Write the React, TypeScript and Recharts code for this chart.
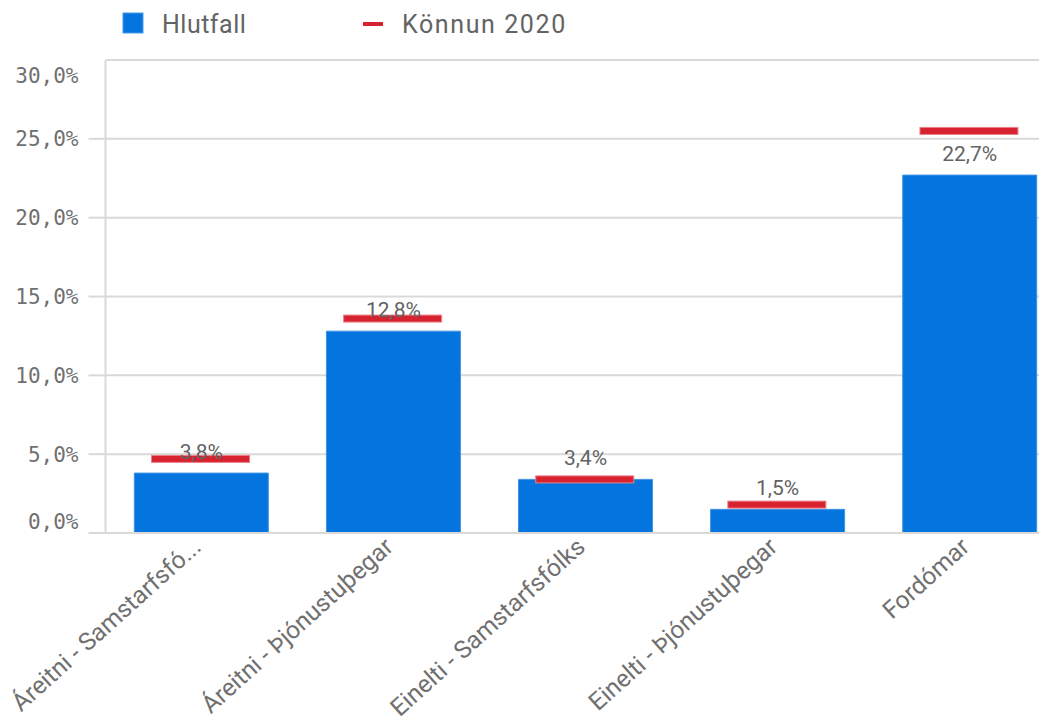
import React from 'react';
import { ComposedChart, Bar, Scatter, XAxis, YAxis, CartesianGrid, LabelList, Legend } from 'recharts';

const categories = ['Áreitni - Samstarfsfó...', 'Áreitni - Þjónustuþegar', 'Einelti - Samstarfsfólks', 'Einelti - Þjónustuþegar', 'Fordómar'];
const hlutfall = [3.8, 12.8, 3.4, 1.5, 22.7];
const konnun2020 = [4.7, 13.6, 3.4, 1.8, 25.5];
const yTicks = [0, 5, 10, 15, 20, 25, 30];
const seriesNames = ['Hlutfall', 'Könnun 2020'];

const data = categories.map((name, i) => ({ name, hlutfall: hlutfall[i], konnun: konnun2020[i] }));

const BLUE = '#0474de';
const RED = '#d7232f';
const GRID = '#d9d9d9';
const TEXT = '#636363';
const XTEXT = '#707070';

const fmt = (v: number) => `${v.toFixed(1).replace('.', ',')}%`;

const YTick = (props: any) => {
  const { x, y, payload } = props;
  const v = payload.value;
  let shift = 0;
  if (v === 30) shift = 15;
  if (v === 0) shift = -12;
  return (
    <g>
      {v !== 30 && <line x1={x - 17} x2={x} y1={y} y2={y} stroke={GRID} strokeWidth={2} />}
      <text x={x - 27} y={y + shift} dy="0.36em" textAnchor="end" fill={XTEXT} fontSize={21} fontFamily="'DejaVu Sans Mono', monospace">
        {fmt(v)}
      </text>
    </g>
  );
};

const XTick = (props: any) => {
  const { x, y, payload } = props;
  const ax = x + 1;
  const ay = y + 16;
  return (
    <text x={ax} y={ay} transform={`rotate(-42, ${ax}, ${ay})`} textAnchor="end" fill={XTEXT} fontSize={24.5} fontFamily="Roboto, sans-serif">
      {payload.value}
    </text>
  );
};

const MarkerShape = (props: any) => {
  const { cx, cy } = props;
  if (cx == null || cy == null) return null;
  return <rect x={cx - 50} y={cy - 3.5} width={98} height={7} fill={RED} stroke="#ec8088" strokeWidth={1} />;
};

const LegendContent = () => (
  <svg width={620} height={45} style={{ display: 'block' }}>
    <rect x={123} y={13} width={20} height={20} fill={BLUE} stroke="#4a9bea" strokeWidth={1} />
    <text x={162} y={33} fill={TEXT} fontSize={25} letterSpacing={0.5} fontFamily="Roboto, sans-serif">{seriesNames[0]}</text>
    <rect x={363} y={22} width={20} height={4} fill={RED} />
    <text x={402} y={33} fill={TEXT} fontSize={25} letterSpacing={1.6} fontFamily="Roboto, sans-serif">{seriesNames[1]}</text>
  </svg>
);

export default function App() {
  return (
    <div style={{ position: 'absolute', left: 0, top: 0, width: 1039, height: 724, overflow: 'hidden', background: '#fff' }}>
      <ComposedChart width={1070} height={724} data={data} margin={{ top: 60, right: 4, left: 0, bottom: 0 }} barCategoryGap="15%">
        <Legend
          verticalAlign="top"
          align="left"
          wrapperStyle={{ position: 'absolute', top: 0, left: 0, width: 620, height: 0, overflow: 'visible' }}
          content={<LegendContent />}
        />
        <CartesianGrid horizontal={true} vertical={false} stroke={GRID} strokeWidth={2} />
        <XAxis
          dataKey="name"
          type="category"
          height={191}
          tickLine={false}
          tickSize={0}
          tickMargin={0}
          interval={0}
          axisLine={{ stroke: GRID, strokeWidth: 2 }}
          tick={<XTick />}
        />
        <YAxis
          type="number"
          domain={[0, 30]}
          ticks={yTicks}
          width={105.5}
          tickLine={false}
          tickSize={0}
          tickMargin={0}
          axisLine={{ stroke: GRID, strokeWidth: 2 }}
          tick={<YTick />}
          interval={0}
        />
        <Bar dataKey="hlutfall" name={seriesNames[0]} fill={BLUE} stroke="#3f93e6" strokeWidth={1} isAnimationActive={false}>
          <LabelList dataKey="hlutfall" position="top" offset={14} formatter={(v: any) => fmt(Number(v))} fill={TEXT} fontSize={21} fontFamily="Roboto, sans-serif" />
        </Bar>
        <Scatter dataKey="konnun" name={seriesNames[1]} fill={RED} shape={<MarkerShape />} isAnimationActive={false} />
      </ComposedChart>
    </div>
  );
}
